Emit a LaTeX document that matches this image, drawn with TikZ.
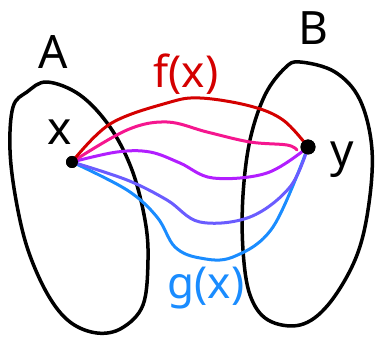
\documentclass[tikz,border=0pt]{standalone}
\usepackage{fontspec}
\setmainfont{Noto Sans}
\definecolor{cred}{HTML}{D40000}
\definecolor{cpink}{HTML}{F5168F}
\definecolor{cpurple}{HTML}{B21EFF}
\definecolor{cviolet}{HTML}{6A5CFF}
\definecolor{cblue}{HTML}{1A8CFF}
\begin{document}
\begin{tikzpicture}[x=1pt,y=-1pt,
  blob/.style={draw=black,line width=3.5pt,line join=round},
  curve/.style={line width=3pt,line cap=round,line join=round},
  dotnode/.style={circle,fill=black,inner sep=0pt},
  lbl/.style={inner sep=0pt,font=\fontsize{46}{46}\selectfont}]
\useasboundingbox (0,0) rectangle (376,337);
% sets
\draw[blob] plot[smooth cycle,tension=0.6] coordinates {(47,82) (80,95) (110,127) (132,170) (145,220) (148,260) (143,305) (122,328) (97,333) (70,322) (48,295) (28,250) (16,200) (10,150) (13,107) (27,92)};
\draw[blob] plot[smooth cycle,tension=0.6] coordinates {(300,62) (335,72) (360,100) (372,150) (368,210) (355,260) (328,305) (300,325) (268,320) (250,295) (243,250) (243,195) (250,140) (265,95) (285,68)};
% points
\node[dotnode,minimum size=12pt] (px) at (72,162) {};
\node[dotnode,minimum size=15pt] (py) at (308,147) {};
% curves
\draw[curve,cblue] plot[smooth,tension=0.6] coordinates {(px.center) (127,190) (157,217) (175,247) (200,258) (233,257) (273,227) (py.center)};
\draw[curve,cviolet] plot[smooth,tension=0.6] coordinates {(px.center) (127,180) (167,200) (200,222) (250,217) (290,187) (py.center)};
\draw[curve,cpurple] plot[smooth,tension=0.6] coordinates {(px.center) (117,152) (150,152) (180,163) (213,178) (267,173) (py.center)};
\draw[curve,cpink] plot[smooth,tension=0.6] coordinates {(px.center) (127,130) (167,122) (207,132) (250,142) (287,145) (297,150)};
\draw[curve,cred] plot[smooth,tension=0.6] coordinates {(px.center) (110,124) (167,103) (200,98) (250,106) (283,120) (py.center)};
\node[dotnode,minimum size=12pt] at (px) {};
\node[dotnode,minimum size=15pt] at (py) {};
% labels
\node[lbl] (lA) at (53,52) {A};
\node[lbl] (lB) at (313,28) {B};
\node[lbl] (lx) at (60,132) {x};
\node[lbl] (ly) at (342,160) {y};
\node[lbl,text=cred,font=\fontsize{44}{44}\selectfont] (lf) at (186,74) {f(x)};
\node[lbl,text=cblue,font=\fontsize{44}{44}\selectfont] (lg) at (206,288) {g(x)};
\end{tikzpicture}
\end{document}
